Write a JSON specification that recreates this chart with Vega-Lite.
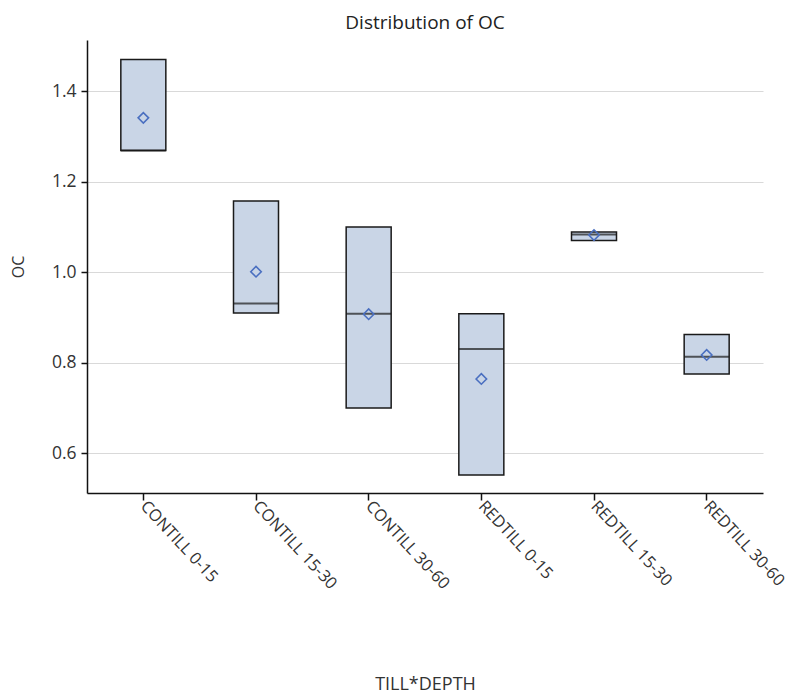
{
  "$schema": "https://vega.github.io/schema/vega-lite/v6.json",
  "autosize": {"type": "none"},
  "width": 676,
  "height": 453,
  "padding": {"left": 87, "top": 40, "right": 32, "bottom": 204},
  "background": "white",
  "title": {"text": "Distribution of OC", "fontSize": 19, "fontWeight": "normal", "font": "Open Sans", "color": "#222222", "anchor": "middle", "offset": 7},
  "config": {
    "font": "Open Sans",
    "view": {"stroke": null}
  },
  "data": {"values": [
    {"group": "CONTILL 0-15", "lower": 1.269, "upper": 1.47, "median": 1.269, "mean": 1.341},
    {"group": "CONTILL 15-30", "lower": 0.910, "upper": 1.157, "median": 0.931, "mean": 1.001},
    {"group": "CONTILL 30-60", "lower": 0.700, "upper": 1.100, "median": 0.908, "mean": 0.907},
    {"group": "REDTILL 0-15", "lower": 0.552, "upper": 0.908, "median": 0.830, "mean": 0.764},
    {"group": "REDTILL 15-30", "lower": 1.070, "upper": 1.089, "median": 1.083, "mean": 1.082},
    {"group": "REDTILL 30-60", "lower": 0.775, "upper": 0.862, "median": 0.813, "mean": 0.817}
  ]},
  "encoding": {
    "x": {"field": "group", "type": "nominal", "sort": null,
      "scale": {"paddingInner": 0, "paddingOuter": 0},
      "axis": {"title": "TILL*DEPTH", "labelAngle": 47, "labelAlign": "left", "labelBaseline": "middle", "tickSize": 7, "labelPadding": 3, "grid": false,
        "labelFont": "Open Sans", "titleFont": "Open Sans", "labelFontSize": 16.5, "titleFontSize": 18, "labelColor": "#333333", "titleColor": "#333333", "titleFontWeight": "normal",
        "domainColor": "#111111", "tickColor": "#111111", "domainWidth": 1.5, "tickWidth": 1.5,
        "titleY": 191, "titleBaseline": "middle"}}
  },
  "layer": [
    {
      "mark": {"type": "bar", "size": 45, "fill": "#c9d5e6", "stroke": "#1a1a1a", "strokeWidth": 1.5},
      "encoding": {
        "y": {"field": "lower", "type": "quantitative", "scale": {"domain": [0.512, 1.513], "nice": false, "zero": false},
          "axis": {"title": "OC", "values": [0.6, 0.8, 1.0, 1.2, 1.4], "format": ".1f", "grid": true, "gridColor": "#d9d9d9", "tickSize": 6, "labelPadding": 5,
            "labelFont": "Open Sans", "titleFont": "Open Sans", "labelFontSize": 17.5, "titleFontSize": 16, "labelColor": "#333333", "titleColor": "#333333", "titleFontWeight": "normal",
            "domainColor": "#111111", "tickColor": "#111111", "domainWidth": 1.5, "tickWidth": 1.5,
            "titleX": -69, "titleBaseline": "middle"}},
        "y2": {"field": "upper"}
      }
    },
    {
      "mark": {"type": "tick", "size": 45, "thickness": 2, "color": "#1a1a1a"},
      "encoding": {"y": {"field": "median", "type": "quantitative"}}
    },
    {
      "mark": {"type": "point", "shape": "diamond", "size": 110, "filled": false, "stroke": "#4a6fc0", "strokeWidth": 1.6, "opacity": 1},
      "encoding": {"y": {"field": "mean", "type": "quantitative"}}
    }
  ]
}
